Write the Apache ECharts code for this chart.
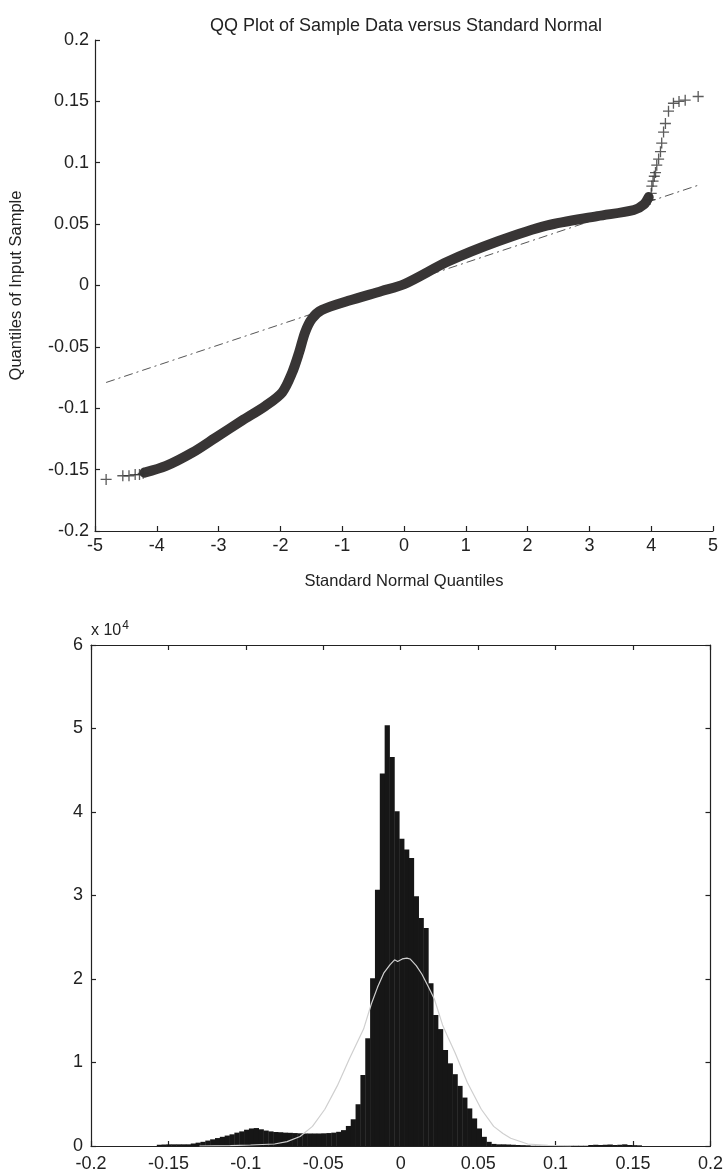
<!DOCTYPE html>
<html>
<head lang="en">
    <meta charset="UTF-8">
    <title>QQ plot and histogram</title>
    <style>
        html, body { margin: 0; padding: 0; background: #fff; }
        #chart { width: 726px; height: 1173px; }
    </style>
</head>
<body>
<div id="chart"></div>
<script src="https://cdn.jsdelivr.net/npm/echarts@6/dist/echarts.min.js"></script>
<script>
// QQ plot: dense band of sample quantiles
var qqBandX = [-4.2, -3.85, -3.42, -3.05, -2.62, -2.24, -1.97, -1.81, -1.7, -1.6, -1.49, -1.33, -0.9, -0.36, 0, 0.71, 1.52, 2.32, 3.13, 3.72, 3.88, 3.96];
var qqBandY = [-0.1525, -0.147, -0.136, -0.124, -0.11, -0.098, -0.087, -0.071, -0.055, -0.038, -0.027, -0.02, -0.0125, -0.0045, 0.001, 0.0195, 0.036, 0.049, 0.0565, 0.0615, 0.066, 0.072];
// sparse "+" points in the two tails
var tailX = [-4.82, -4.55, -4.45, -4.35, -4.28, -4.22, 3.98, 4.0, 4.01, 4.03, 4.05, 4.07, 4.09, 4.12, 4.15, 4.17, 4.2, 4.23, 4.28, 4.36, 4.45, 4.55, 4.76];
var tailY = [-0.158, -0.155, -0.155, -0.154, -0.154, -0.153, 0.07, 0.075, 0.081, 0.085, 0.089, 0.092, 0.098, 0.103, 0.109, 0.116, 0.125, 0.132, 0.142, 0.1485, 0.15, 0.151, 0.154];
// dash-dot reference line
var refX = [-4.82, 4.78];
var refY = [-0.079, 0.082];

// histogram, 100 bins (counts in units of 10^4)
var binWidth = 0.00313;
var binCenters = [
    -0.15594, -0.15281, -0.14968, -0.14655, -0.14342, -0.14029, -0.13716, -0.13403, -0.13090, -0.12777,
    -0.12464, -0.12151, -0.11838, -0.11525, -0.11212, -0.10899, -0.10586, -0.10273, -0.09960, -0.09647,
    -0.09334, -0.09021, -0.08708, -0.08395, -0.08082, -0.07769, -0.07456, -0.07143, -0.06830, -0.06517,
    -0.06204, -0.05891, -0.05578, -0.05265, -0.04952, -0.04639, -0.04326, -0.04013, -0.03700, -0.03387,
    -0.03074, -0.02761, -0.02448, -0.02135, -0.01822, -0.01509, -0.01196, -0.00883, -0.00570, -0.00257,
    0.00056, 0.00369, 0.00682, 0.00995, 0.01308, 0.01621, 0.01934, 0.02247, 0.02560, 0.02873,
    0.03186, 0.03499, 0.03812, 0.04125, 0.04438, 0.04751, 0.05064, 0.05377, 0.05690, 0.06003,
    0.06316, 0.06629, 0.06942, 0.07255, 0.07568, 0.07881, 0.08194, 0.08507, 0.08820, 0.09133,
    0.09446, 0.09759, 0.10072, 0.10385, 0.10698, 0.11011, 0.11324, 0.11637, 0.11950, 0.12263,
    0.12576, 0.12889, 0.13202, 0.13515, 0.13828, 0.14141, 0.14454, 0.14767, 0.15080, 0.15393
];
var binCounts = [
    0.015, 0.018, 0.02, 0.02, 0.02, 0.02, 0.02, 0.03, 0.04, 0.05,
    0.065, 0.08, 0.095, 0.11, 0.125, 0.14, 0.16, 0.175, 0.195, 0.21,
    0.215, 0.2, 0.185, 0.175, 0.168, 0.165, 0.16, 0.158, 0.155, 0.152,
    0.15, 0.15, 0.15, 0.15, 0.152, 0.155, 0.16, 0.17, 0.19, 0.24,
    0.32, 0.5, 0.85, 1.29, 2.01, 3.07, 4.46, 5.04, 4.66, 4.01,
    3.68, 3.55, 3.45, 2.99, 2.73, 2.61, 1.95, 1.57, 1.4, 1.15,
    0.99, 0.86, 0.72, 0.58, 0.45, 0.33, 0.21, 0.11, 0.05, 0.025,
    0.02, 0.02, 0.018, 0.015, 0.012, 0.01, 0.008, 0.003, 0.003, 0.003,
    0.003, 0.003, 0.003, 0.003, 0.003, 0.003, 0.003, 0.003, 0.003, 0.012,
    0.015, 0.012, 0.015, 0.018, 0.012, 0.015, 0.02, 0.012, 0.01, 0.008
];
// fitted normal curve drawn over the histogram
var fitX = [-0.13, -0.11, -0.097, -0.0815, -0.0734, -0.065, -0.057, -0.049, -0.041, -0.033, -0.024, -0.019, -0.015, -0.011, -0.007, -0.004, -0.002, 0.001, 0.004, 0.006, 0.01, 0.0136, 0.0175, 0.0217, 0.027, 0.031, 0.035, 0.043, 0.052, 0.06, 0.066, 0.071, 0.082, 0.095, 0.11];
var fitY = [0, 0.004, 0.012, 0.024, 0.053, 0.114, 0.235, 0.44, 0.72, 1.05, 1.4, 1.7, 1.9, 2.07, 2.17, 2.23, 2.21, 2.24, 2.25, 2.24, 2.16, 2.06, 1.92, 1.76, 1.45, 1.28, 1.12, 0.76, 0.44, 0.235, 0.15, 0.093, 0.024, 0.008, 0];

function zip(a, b) {
    return a.map(function (v, i) { return [v, b[i]]; });
}

var font = "'Liberation Sans Narrow', 'Liberation Sans', Arial, sans-serif";
var ink = '#222';
var lbl = { color: ink, fontFamily: font, fontSize: 18 };
var nameLbl = { color: ink, fontFamily: font, fontSize: 16.5 };
var axLine = { show: true, onZero: false, lineStyle: { color: ink, width: 1.2 } };
var tick = { show: true, inside: true, length: 5, lineStyle: { color: ink, width: 1.2 } };
var plusPath = 'path://M4.4,0H5.6V4.4H10V5.6H5.6V10H4.4V5.6H0V4.4H4.4Z';

var myChart = echarts.init(document.getElementById('chart'));
var option = {
    animation: false,
    backgroundColor: '#fff',
    title: {
        text: 'QQ Plot of Sample Data versus Standard Normal',
        left: 401, top: 12, textAlign: 'center',
        textStyle: { color: ink, fontFamily: font, fontSize: 18, fontWeight: 'normal' }
    },
    grid: [
        { left: 92, top: 40, width: 621, height: 491 },
        { left: 91, top: 645, width: 621, height: 505 }
    ],
    xAxis: [
        {
            gridIndex: 0, type: 'value', min: -5, max: 5, interval: 1,
            name: 'Standard Normal Quantiles', nameLocation: 'middle', nameGap: 42,
            nameTextStyle: nameLbl,
            axisLine: axLine, axisTick: tick, splitLine: { show: false },
            axisLabel: Object.assign({ margin: 6 }, lbl)
        },
        {
            gridIndex: 1, type: 'value', min: -0.2, max: 0.2, interval: 0.05,
            axisLine: axLine, axisTick: tick, splitLine: { show: false },
            axisLabel: Object.assign({ margin: 9 }, lbl)
        },
        {
            gridIndex: 1, type: 'value', position: 'top', min: -0.2, max: 0.2, interval: 0.05,
            axisLine: axLine, axisTick: tick, splitLine: { show: false },
            axisLabel: { show: false }
        }
    ],
    yAxis: [
        {
            gridIndex: 0, type: 'value', min: -0.2, max: 0.2, interval: 0.05,
            name: 'Quantiles of Input Sample', nameLocation: 'middle', nameGap: 70, nameRotate: 90,
            nameTextStyle: nameLbl,
            axisLine: axLine, axisTick: tick, splitLine: { show: false },
            axisLabel: Object.assign({ margin: 6 }, lbl)
        },
        {
            gridIndex: 1, type: 'value', min: 0, max: 6, interval: 1,
            name: '{a|x 10}{b|4}', nameLocation: 'end', nameGap: 3,
            nameTextStyle: {
                align: 'left',
                rich: {
                    a: { color: ink, fontFamily: font, fontSize: 16 },
                    b: { color: ink, fontFamily: font, fontSize: 12, verticalAlign: 'top', padding: [0, 0, 10, 1] }
                }
            },
            axisLine: axLine, axisTick: tick, splitLine: { show: false },
            axisLabel: Object.assign({ margin: 8 }, lbl)
        },
        {
            gridIndex: 1, type: 'value', position: 'right', min: 0, max: 6, interval: 1,
            axisLine: axLine, axisTick: tick, splitLine: { show: false },
            axisLabel: { show: false }
        }
    ],
    series: [
        {
            name: 'reference', type: 'line', xAxisIndex: 0, yAxisIndex: 0,
            data: zip(refX, refY), showSymbol: false, silent: true, z: 1,
            lineStyle: { color: '#555', width: 1, type: [9, 4, 2, 4] }
        },
        {
            name: 'sample band', type: 'line', xAxisIndex: 0, yAxisIndex: 0,
            data: zip(qqBandX, qqBandY), showSymbol: false, smooth: 0.3, z: 2,
            lineStyle: { color: '#383535', width: 10, cap: 'round', join: 'round' }
        },
        {
            name: 'sample tails', type: 'scatter', xAxisIndex: 0, yAxisIndex: 0,
            data: zip(tailX, tailY), symbol: plusPath, symbolSize: 11, z: 3,
            itemStyle: { color: '#333' }
        },
        {
            name: 'histogram', type: 'custom', xAxisIndex: 1, yAxisIndex: 1,
            data: zip(binCenters, binCounts), z: 2,
            renderItem: function (params, api) {
                var c = api.value(0);
                var p0 = api.coord([c - binWidth / 2, 0]);
                var p1 = api.coord([c + binWidth / 2, api.value(1)]);
                return {
                    type: 'rect',
                    shape: { x: p0[0], y: p1[1], width: p1[0] - p0[0] + 0.4, height: p0[1] - p1[1] },
                    style: { fill: '#161616' }
                };
            }
        },
        {
            name: 'normal fit', type: 'line', xAxisIndex: 1, yAxisIndex: 1,
            data: zip(fitX, fitY), showSymbol: false, z: 5,
            lineStyle: { color: '#cfcfcf', width: 1.2 }
        }
    ]
};
myChart.setOption(option);
</script>
</body>
</html>
